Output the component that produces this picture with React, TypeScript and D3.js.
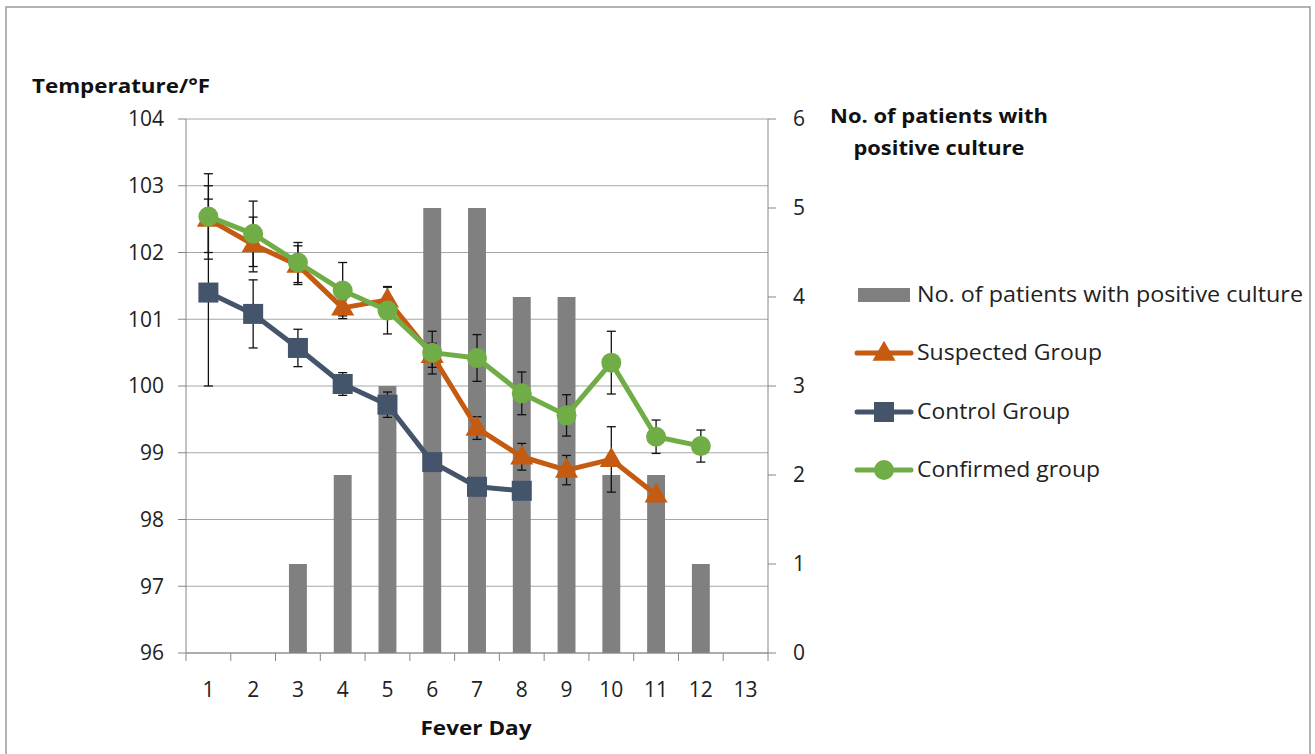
import React from "react";
import * as d3 from "d3";

// Fever days on the category axis
const days = ["1", "2", "3", "4", "5", "6", "7", "8", "9", "10", "11", "12", "13"];

// Positive cultures per fever day (secondary axis)
const positiveCulture = [0, 0, 1, 2, 3, 5, 5, 4, 4, 2, 2, 1, 0];

// Mean temperature (°F) and error-bar half-widths per group; null = no reading
const suspectedTemp = [102.5, 102.12, 101.81, 101.17, 101.29, 100.46, 99.37, 98.94, 98.74, 98.9, 98.37, null, null];
const suspectedErr = [0.5, 0.41, 0.29, 0.12, 0.2, 0.18, 0.17, 0.2, 0.22, 0.49, 0, 0, 0];

const controlTemp = [101.4, 101.08, 100.57, 100.03, 99.72, 98.86, 98.49, 98.43, null, null, null, null, null];
const controlErr = [1.4, 0.51, 0.28, 0.17, 0.19, 0, 0, 0, 0, 0, 0, 0, 0];

const confirmedTemp = [102.54, 102.28, 101.85, 101.43, 101.13, 100.5, 100.42, 99.89, 99.56, 100.35, 99.24, 99.1, null];
const confirmedErr = [0.64, 0.49, 0.3, 0.42, 0.35, 0.32, 0.35, 0.32, 0.31, 0.47, 0.25, 0.24, 0];

const leftTicks = [96, 97, 98, 99, 100, 101, 102, 103, 104];
const rightTicks = [0, 1, 2, 3, 4, 5, 6];

const FONT = "'Open Sans', 'Liberation Sans', sans-serif";
const AXIS = "#868686";
const GRID = "#a6a6a6";
const BAR = "#808080";

type Series = {
  name: string;
  values: (number | null)[];
  errors: number[];
  color: string;
  marker: "triangle" | "square" | "circle";
};

const series: Series[] = [
  { name: "Suspected Group", values: suspectedTemp, errors: suspectedErr, color: "#c55a11", marker: "triangle" },
  { name: "Control Group", values: controlTemp, errors: controlErr, color: "#44546a", marker: "square" },
  { name: "Confirmed group", values: confirmedTemp, errors: confirmedErr, color: "#70ad47", marker: "circle" },
];

const W = 1315;
const H = 754;
const plot = { left: 186, right: 768, top: 119, bottom: 653 };

function Marker({ kind, x, y, color }: { kind: Series["marker"]; x: number; y: number; color: string }) {
  if (kind === "circle") return <circle cx={x} cy={y} r={10} fill={color} />;
  if (kind === "square") return <rect x={x - 10} y={y - 10} width={20} height={20} fill={color} />;
  const path = d3.symbol(d3.symbolTriangle, 230)();
  return <path d={path || ""} transform={`translate(${x},${y + 1})`} fill={color} />;
}

export default function App() {
  const x = d3.scaleBand<string>().domain(days).range([plot.left, plot.right]).padding(0);
  const yL = d3.scaleLinear().domain([96, 104]).range([plot.bottom, plot.top]);
  const yR = d3.scaleLinear().domain([0, 6]).range([plot.bottom, plot.top]);
  const bw = x.bandwidth();
  const cx = (d: string) => (x(d) as number) + bw / 2;

  const line = d3
    .line<{ d: string; v: number | null }>()
    .defined((p) => p.v !== null)
    .x((p) => cx(p.d))
    .y((p) => yL(p.v as number));

  const boundaries = d3.range(days.length + 1).map((i) => plot.left + i * bw);

  const legendItems = [
    { label: "No. of patients with positive culture", y: 295, len: 386 },
    { label: series[0].name, y: 353, len: 185 },
    { label: series[1].name, y: 412, len: 153 },
    { label: series[2].name, y: 470, len: 183 },
  ];

  return (
    <svg
      width={W}
      height={H}
      style={{ position: "absolute", left: 0, top: 0, background: "#fff" }}
      fontFamily={FONT}
    >
      <rect x={6} y={7} width={1304} height={H + 10} fill="#fff" stroke="#9a9a9a" strokeWidth={1.5} />

      {/* horizontal gridlines */}
      {leftTicks.map((t) => (
        <line key={"g" + t} x1={plot.left} x2={plot.right} y1={yL(t)} y2={yL(t)} stroke={GRID} strokeWidth={1} />
      ))}

      {/* culture counts */}
      {positiveCulture.map((v, i) =>
        v > 0 ? (
          <rect
            key={"b" + i}
            x={cx(days[i]) - bw * 0.2}
            y={yR(v)}
            width={bw * 0.4}
            height={yR(0) - yR(v)}
            fill={BAR}
          />
        ) : null
      )}

      {/* axes */}
      <line x1={plot.left} x2={plot.left} y1={plot.top} y2={plot.bottom} stroke={AXIS} />
      <line x1={plot.right} x2={plot.right} y1={plot.top} y2={plot.bottom} stroke={AXIS} />
      <line x1={plot.left} x2={plot.right} y1={plot.bottom} y2={plot.bottom} stroke={AXIS} />
      {leftTicks.map((t) => (
        <g key={"lt" + t}>
          <line x1={plot.left - 8} x2={plot.left} y1={yL(t)} y2={yL(t)} stroke={AXIS} />
          <text x={164} y={yL(t)} dy="0.35em" textAnchor="end" fontSize={21} fill="#222">
            {t}
          </text>
        </g>
      ))}
      {rightTicks.map((t) => (
        <g key={"rt" + t}>
          <line x1={plot.right} x2={plot.right + 8} y1={yR(t)} y2={yR(t)} stroke={AXIS} />
          <text x={793} y={yR(t)} dy="0.35em" textAnchor="start" fontSize={21} fill="#222">
            {t}
          </text>
        </g>
      ))}
      {boundaries.map((b, i) => (
        <line key={"xt" + i} x1={b} x2={b} y1={plot.bottom} y2={plot.bottom + 8} stroke={AXIS} />
      ))}
      {days.map((d) => (
        <text key={"xl" + d} x={cx(d)} y={690} dy="0.35em" textAnchor="middle" fontSize={21} fill="#222">
          {d}
        </text>
      ))}

      {/* axis titles */}
      <text x={32} y={86} dy="0.35em" fontSize={19} fontWeight="bold" fill="#111" textLength={178} lengthAdjust="spacingAndGlyphs">
        Temperature/°F
      </text>
      <text x={939} y={116} dy="0.35em" textAnchor="middle" fontSize={19} fontWeight="bold" fill="#111" textLength={218} lengthAdjust="spacingAndGlyphs">
        No. of patients with
      </text>
      <text x={939} y={148} dy="0.35em" textAnchor="middle" fontSize={19} fontWeight="bold" fill="#111" textLength={171} lengthAdjust="spacingAndGlyphs">
        positive culture
      </text>
      <text x={476} y={728} dy="0.35em" textAnchor="middle" fontSize={19} fontWeight="bold" fill="#111" textLength={111} lengthAdjust="spacingAndGlyphs">
        Fever Day
      </text>

      {/* error bars */}
      {series.map((s) =>
        s.values.map((v, i) => {
          if (v === null || !s.errors[i]) return null;
          const xx = cx(days[i]);
          const y1 = yL(v + s.errors[i]);
          const y2 = yL(v - s.errors[i]);
          return (
            <g key={s.name + "e" + i} stroke="#111" strokeWidth={1.3}>
              <line x1={xx} x2={xx} y1={y1} y2={y2} />
              <line x1={xx - 4.5} x2={xx + 4.5} y1={y1} y2={y1} />
              <line x1={xx - 4.5} x2={xx + 4.5} y1={y2} y2={y2} />
            </g>
          );
        })
      )}

      {/* temperature lines with markers */}
      {series.map((s) => {
        const pts = s.values.map((v, i) => ({ d: days[i], v }));
        return (
          <g key={s.name}>
            <path d={line(pts) || ""} fill="none" stroke={s.color} strokeWidth={5} strokeLinejoin="round" />
            {pts.map((p) =>
              p.v === null ? null : <Marker key={p.d} kind={s.marker} x={cx(p.d)} y={yL(p.v)} color={s.color} />
            )}
          </g>
        );
      })}

      {/* legend */}
      <rect x={858} y={288} width={52} height={14} fill={BAR} />
      {series.map((s, i) => {
        const ly = legendItems[i + 1].y;
        return (
          <g key={"lg" + s.name}>
            <line x1={857} x2={911} y1={ly} y2={ly} stroke={s.color} strokeWidth={5} strokeLinecap="round" />
            <Marker kind={s.marker} x={884} y={ly} color={s.color} />
          </g>
        );
      })}
      {legendItems.map((it) => (
        <text key={it.label} x={917} y={it.y} dy="0.35em" fontSize={21} fill="#222" textLength={it.len} lengthAdjust="spacingAndGlyphs">
          {it.label}
        </text>
      ))}
    </svg>
  );
}
